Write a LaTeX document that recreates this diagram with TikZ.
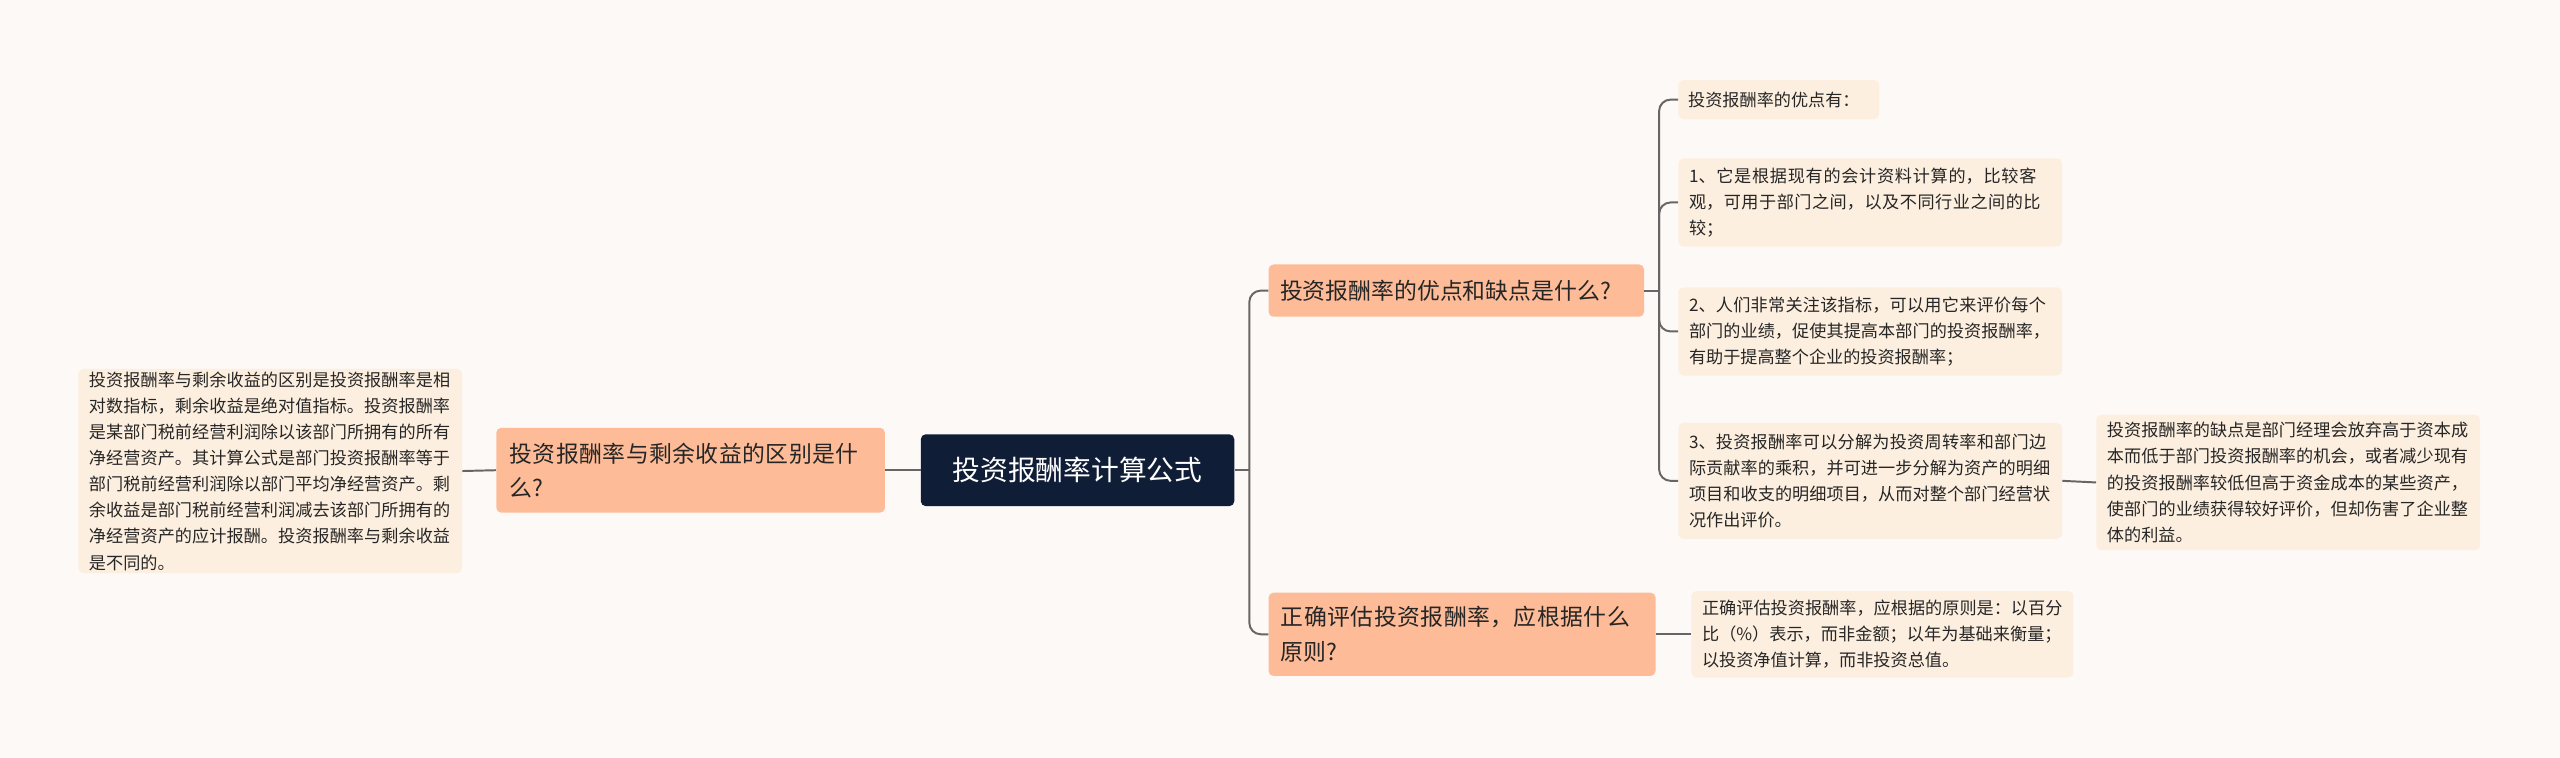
\documentclass[tikz,border=0pt]{standalone}
\usepackage{fontspec}
\setmainfont{Noto Sans CJK SC}
\XeTeXlinebreaklocale "zh"
\XeTeXlinebreakskip=0pt plus 1pt
\begin{document}
\begin{tikzpicture}[x=1pt,y=-1pt,
 leaf/.style={fill=leafc,rounded corners=3,align=left,inner sep=0pt,font=\fontsize{10.5}{16}\selectfont,text=black!85},
 mid/.style={fill=midc,rounded corners=3,align=left,inner sep=0pt,font=\fontsize{14}{21}\selectfont,text=black!85},
 con/.style={draw=black!60,line width=1.2pt,rounded corners=7}]
\definecolor{bgc}{HTML}{FDF9F7}
\definecolor{leafc}{HTML}{FDEFDF}
\definecolor{midc}{HTML}{FDBB97}
\definecolor{navy}{HTML}{0F1D36}
\fill[bgc] (0,0) rectangle (1568,464);
\useasboundingbox (0,0) rectangle (1568,464);
\node[fill=navy,rounded corners=3,minimum width=192,minimum height=44,text=white,font=\fontsize{17}{20}\selectfont] (c) at (660,288) {投资报酬率计算公式};
\node[mid,minimum width=238,minimum height=52,text width=222] (l1) at (423,288) {投资报酬率与剩余收益的区别是什么?};
\node[leaf,minimum width=235,minimum height=125,text width=222] (ll) at (165.5,288.5) {投资报酬率与剩余收益的区别是投资报酬率是相对数指标，剩余收益是绝对值指标。投资报酬率是某部门税前经营利润除以该部门所拥有的所有净经营资产。其计算公式是部门投资报酬率等于部门税前经营利润除以部门平均净经营资产。剩余收益是部门税前经营利润减去该部门所拥有的净经营资产的应计报酬。投资报酬率与剩余收益是不同的。};
\node[mid,minimum width=230,minimum height=32,text width=216] (r1) at (892,178) {投资报酬率的优点和缺点是什么?};
\node[mid,minimum width=237,minimum height=51,text width=222] (r2) at (895.5,388.5) {正确评估投资报酬率，应根据什么原则?};
\node[leaf,minimum width=123,minimum height=24,text width=111] (a) at (1089.5,61) {投资报酬率的优点有：};
\node[leaf,minimum width=235,minimum height=54,text width=222] (b) at (1145.5,124) {1、它是根据现有的会计资料计算的，比较客观，可用于部门之间，以及不同行业之间的比较；};
\node[leaf,minimum width=235,minimum height=54,text width=222] (cc) at (1145.5,203) {2、人们非常关注该指标，可以用它来评价每个部门的业绩，促使其提高本部门的投资报酬率，有助于提高整个企业的投资报酬率；};
\node[leaf,minimum width=235,minimum height=71,text width=222] (d) at (1145.5,294.5) {3、投资报酬率可以分解为投资周转率和部门边际贡献率的乘积，并可进一步分解为资产的明细项目和收支的明细项目，从而对整个部门经营状况作出评价。};
\node[leaf,minimum width=235,minimum height=83,text width=222] (e) at (1401.5,295.5) {投资报酬率的缺点是部门经理会放弃高于资本成本而低于部门投资报酬率的机会，或者减少现有的投资报酬率较低但高于资金成本的某些资产，使部门的业绩获得较好评价，但却伤害了企业整体的利益。};
\node[leaf,minimum width=234,minimum height=53,text width=221] (f) at (1153,388.5) {正确评估投资报酬率，应根据的原则是：以百分比（\%）表示，而非金额；以年为基础来衡量；以投资净值计算，而非投资总值。};
\draw[con] (c.west) -- (l1.east);
\draw[con] (l1.west) -- (ll.east);
\draw[con] (c.east) -- ++(9,0) coordinate (j1);
\draw[con] (j1) |- (r1.west);
\draw[con] (j1) |- (r2.west);
\draw[con] (r1.east) -- ++(9,0) coordinate (j2);
\draw[con] (j2) |- (a.west);
\draw[con] (j2) |- (b.west);
\draw[con] (j2) |- (cc.west);
\draw[con] (j2) |- (d.west);
\draw[con] (d.east) -- (e.west);
\draw[con] (r2.east) -- (f.west);
\end{tikzpicture}
\end{document}
